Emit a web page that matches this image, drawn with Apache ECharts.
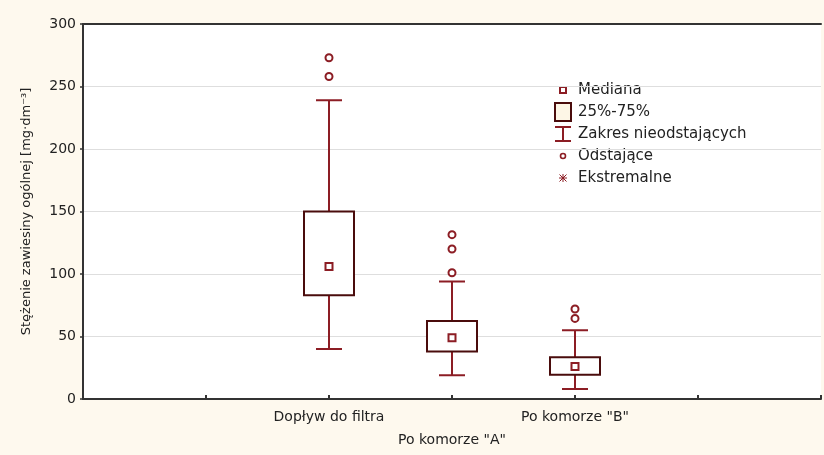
<!DOCTYPE html>
<html>
<head>
<meta charset="utf-8">
<script src="https://cdn.jsdelivr.net/npm/echarts@6/dist/echarts.min.js"></script>
<style>
html,body{margin:0;padding:0;background:#fef9ee;}
#chart{width:824px;height:455px;}
</style>
</head>
<body>
<div id="chart"></div>
<script>
// ---- data ----
const categories = ['Dopływ do filtra', 'Po komorze "A"', 'Po komorze "B"'];
const lowerWhisker = [40, 19, 8];
const q1 = [83, 38, 19.5];
const median = [106, 49, 26];
const q3 = [150, 62.5, 33.5];
const upperWhisker = [239, 94, 55];
const outliers = [[273, 258], [131.5, 120, 101], [72, 64.5]];
const yTicks = [0, 50, 100, 150, 200, 250, 300];
const legendLabels = ['Mediana', '25%-75%', 'Zakres nieodstających', 'Odstające', 'Ekstremalne'];

// ---- style ----
const RED = '#8c1d24';
const BOX = '#4a0c0c';
const FONT = 'DejaVu Sans';
const OFFSET = 2; // first category sits on axis position 2

const boxData = categories.map((c, i) => [i + OFFSET, lowerWhisker[i], q1[i], median[i], q3[i], upperWhisker[i]]);
const medianData = categories.map((c, i) => [i + OFFSET, median[i]]);
const outlierData = [];
outliers.forEach((arr, i) => arr.forEach(v => outlierData.push([i + OFFSET, v])));

function renderWhisker(params, api) {
  const x = api.value(0);
  const lo = api.coord([x, api.value(1)]);
  const b = api.coord([x, api.value(2)]);
  const t = api.coord([x, api.value(4)]);
  const hi = api.coord([x, api.value(5)]);
  const cap = 13;
  const st = {stroke: RED, lineWidth: 2};
  return {type: 'group', children: [
    {type: 'line', shape: {x1: lo[0], y1: lo[1], x2: b[0], y2: b[1]}, style: st},
    {type: 'line', shape: {x1: t[0], y1: t[1], x2: hi[0], y2: hi[1]}, style: st},
    {type: 'line', shape: {x1: lo[0] - cap, y1: lo[1], x2: lo[0] + cap, y2: lo[1]}, style: st},
    {type: 'line', shape: {x1: hi[0] - cap, y1: hi[1], x2: hi[0] + cap, y2: hi[1]}, style: st}
  ]};
}
function renderBox(params, api) {
  const x = api.value(0);
  const b = api.coord([x, api.value(2)]);
  const t = api.coord([x, api.value(4)]);
  const hw = 25;
  return {type: 'rect', shape: {x: b[0] - hw, y: t[1], width: hw * 2, height: b[1] - t[1]},
    style: {fill: '#fff', stroke: BOX, lineWidth: 2}};
}

// legend graphics
const LX = 563, LT = 578, LY0 = 90, LDY = 22;
const legendGraphics = [];
legendLabels.forEach((t, i) => {
  legendGraphics.push({type: 'text', x: LT, y: LY0 + i * LDY,
    style: {text: t, font: '15px "' + FONT + '"', fill: '#222', verticalAlign: 'middle', align: 'left'}});
});
legendGraphics.push(
  {type: 'rect', shape: {x: LX - 3, y: LY0 - 3, width: 6, height: 6}, style: {fill: '#fff', stroke: RED, lineWidth: 2}},
  {type: 'rect', shape: {x: LX - 8, y: LY0 + LDY - 9, width: 16, height: 18}, style: {fill: '#fdf6e6', stroke: BOX, lineWidth: 2}},
  {type: 'line', shape: {x1: LX - 8, y1: LY0 + 2 * LDY - 7, x2: LX + 8, y2: LY0 + 2 * LDY - 7}, style: {stroke: RED, lineWidth: 2}},
  {type: 'line', shape: {x1: LX - 8, y1: LY0 + 2 * LDY + 7, x2: LX + 8, y2: LY0 + 2 * LDY + 7}, style: {stroke: RED, lineWidth: 2}},
  {type: 'line', shape: {x1: LX, y1: LY0 + 2 * LDY - 7, x2: LX, y2: LY0 + 2 * LDY + 7}, style: {stroke: RED, lineWidth: 2}},
  {type: 'circle', shape: {cx: LX, cy: LY0 + 3 * LDY, r: 2.5}, style: {fill: '#fff', stroke: RED, lineWidth: 1.6}},
  {type: 'line', shape: {x1: LX, y1: LY0 + 4 * LDY - 4, x2: LX, y2: LY0 + 4 * LDY + 4}, style: {stroke: RED, lineWidth: 1}},
  {type: 'line', shape: {x1: LX - 3.5, y1: LY0 + 4 * LDY - 3.5, x2: LX + 3.5, y2: LY0 + 4 * LDY + 3.5}, style: {stroke: RED, lineWidth: 1}},
  {type: 'line', shape: {x1: LX + 3.5, y1: LY0 + 4 * LDY - 3.5, x2: LX - 3.5, y2: LY0 + 4 * LDY + 3.5}, style: {stroke: RED, lineWidth: 1}},
  {type: 'line', shape: {x1: LX - 4, y1: LY0 + 4 * LDY, x2: LX + 4, y2: LY0 + 4 * LDY}, style: {stroke: RED, lineWidth: 1}}
);

const chart = echarts.init(document.getElementById('chart'), null, {renderer: 'canvas'});
chart.setOption({
  backgroundColor: '#fef9ee',
  animation: false,
  grid: {left: 83, right: 0, top: 24, bottom: 56, show: true, backgroundColor: '#fff', borderWidth: 0},
  xAxis: [{
    type: 'value', min: 0, max: 6, interval: 1,
    axisLine: {show: true, lineStyle: {color: '#333', width: 2}},
    axisTick: {show: true, inside: true, length: 4, lineStyle: {color: '#333', width: 2}},
    splitLine: {show: false},
    axisLabel: {
      margin: 7, color: '#222', fontFamily: FONT, fontSize: 14, lineHeight: 23,
      formatter: v => {
        const i = v - OFFSET;
        if (i < 0 || i >= categories.length) return '';
        return (i % 2 === 1 ? '\n' : '') + categories[i];
      }
    }
  }, {
    type: 'value', min: 0, max: 6, position: 'top',
    axisLine: {show: true, onZero: false, lineStyle: {color: '#333', width: 2}},
    axisTick: {show: false}, axisLabel: {show: false}, splitLine: {show: false}
  }],
  yAxis: {
    type: 'value', min: yTicks[0], max: yTicks[yTicks.length - 1], interval: yTicks[1] - yTicks[0],
    name: 'Stężenie zawiesiny ogólnej [mg·dm⁻³]', nameLocation: 'middle', nameGap: 50,
    nameTextStyle: {color: '#222', fontFamily: FONT, fontSize: 13},
    axisLine: {show: true, lineStyle: {color: '#333', width: 2}},
    axisTick: {show: true, length: 3, lineStyle: {color: '#333', width: 1.5}},
    axisLabel: {margin: 7, color: '#222', fontFamily: FONT, fontSize: 14},
    splitLine: {show: true, lineStyle: {color: '#dedede', width: 1}}
  },
  graphic: legendGraphics,
  series: [
    {type: 'custom', name: 'Zakres nieodstających', renderItem: renderWhisker, data: boxData, z: 2,
      encode: {x: 0, y: [1, 5]}},
    {type: 'custom', name: '25%-75%', renderItem: renderBox, data: boxData, z: 3,
      encode: {x: 0, y: [2, 4]}},
    {type: 'scatter', name: 'Mediana', data: medianData, symbol: 'rect', symbolSize: 7, z: 4,
      itemStyle: {color: '#fff', borderColor: RED, borderWidth: 2, opacity: 1}},
    {type: 'scatter', name: 'Odstające', data: outlierData, symbol: 'circle', symbolSize: 7, z: 4,
      itemStyle: {color: '#fff', borderColor: RED, borderWidth: 2, opacity: 1}}
  ]
});
</script>
</body>
</html>
